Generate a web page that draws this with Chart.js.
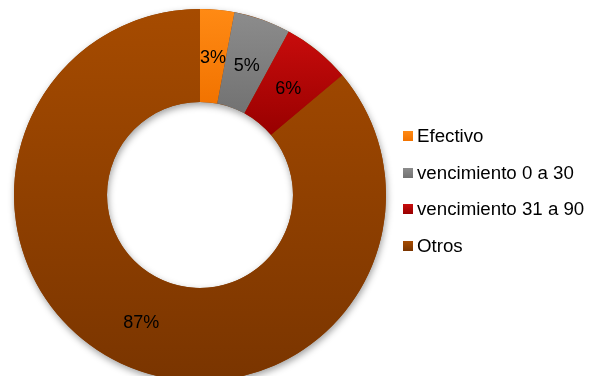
<!DOCTYPE html>
<html lang="es">
<head>
<meta charset="utf-8">
<title>Composición de cartera</title>
<script src="https://cdn.jsdelivr.net/npm/chart.js@4/dist/chart.umd.min.js"></script>
<style>
  html, body { margin: 0; padding: 0; background: #fff; overflow: hidden; }
  .wrap { position: relative; width: 592px; height: 376px; }
  .wrap canvas { position: absolute; left: 0; top: 0; }
  .legend { position: absolute; left: 403px; top: 117.7px; margin: 0; padding: 0; list-style: none;
    font: 18.7px "Liberation Sans", Arial, sans-serif; color: #000; }
  .legend li { height: 36.67px; display: flex; align-items: center; white-space: nowrap; }
  .legend i { display: inline-block; width: 10px; height: 10px; margin-right: 4px; }
</style>
</head>
<body>
<div class="wrap">
  <canvas id="donut" width="592" height="376"></canvas>
  <ul class="legend" id="legend"></ul>
</div>
<script>
(function () {
  'use strict';

  const labels = ['Efectivo', 'vencimiento 0 a 30', 'vencimiento 31 a 90', 'Otros'];
  const values = [3, 5, 6, 87];
  const topColors = ['#ff8a14', '#8c8c8c', '#c80c0c', '#a64b00'];
  const bottomColors = ['#f27300', '#727272', '#980000', '#7a3500'];

  const OUTER = 186;
  const CUTOUT = 0.5;

  // vertical extent of a slice, so each one gets its own top-to-bottom gradient
  function sliceBounds(area, index) {
    const cy = (area.top + area.bottom) / 2;
    const total = values.reduce((a, b) => a + b, 0);
    const before = values.slice(0, index).reduce((a, b) => a + b, 0);
    const a0 = -Math.PI / 2 + (before / total) * Math.PI * 2;
    const a1 = a0 + (values[index] / total) * Math.PI * 2;
    let minY = Infinity, maxY = -Infinity;
    for (let s = 0; s <= 48; s++) {
      const a = a0 + (a1 - a0) * s / 48;
      [OUTER, OUTER * CUTOUT].forEach((r) => {
        const y = cy + r * Math.sin(a);
        minY = Math.min(minY, y);
        maxY = Math.max(maxY, y);
      });
    }
    return { minY, maxY };
  }

  function sliceFill(ctx) {
    const i = ctx.dataIndex;
    const area = ctx.chart.chartArea;
    if (!area) return topColors[i];
    const { minY, maxY } = sliceBounds(area, i);
    const g = ctx.chart.ctx.createLinearGradient(0, minY, 0, maxY);
    g.addColorStop(0, topColors[i]);
    g.addColorStop(1, bottomColors[i]);
    return g;
  }

  // soft drop shadow under the whole ring
  const ringShadow = {
    id: 'ringShadow',
    beforeDatasetsDraw(chart) {
      const arc = chart.getDatasetMeta(0).data[0];
      if (!arc) return;
      const { x, y, outerRadius, innerRadius } = arc.getProps(['x', 'y', 'outerRadius', 'innerRadius'], true);
      const c = chart.ctx;
      c.save();
      c.shadowColor = 'rgba(0,0,0,0.38)';
      c.shadowBlur = 7;
      c.shadowOffsetX = 1;
      c.shadowOffsetY = 3;
      c.fillStyle = '#8c3f00';
      c.beginPath();
      c.arc(x, y, outerRadius, 0, Math.PI * 2);
      c.arc(x, y, innerRadius, Math.PI * 2, 0, true);
      c.closePath();
      c.fill('evenodd');
      c.restore();
    },
  };

  // percentage text in the middle of each slice
  const sliceLabels = {
    id: 'sliceLabels',
    afterDatasetsDraw(chart) {
      const c = chart.ctx;
      c.save();
      c.font = '18px "Liberation Sans", Arial, sans-serif';
      c.fillStyle = '#000';
      c.textAlign = 'center';
      c.textBaseline = 'middle';
      chart.getDatasetMeta(0).data.forEach((arc, i) => {
        const p = arc.tooltipPosition();
        c.fillText(values[i] + '%', p.x, p.y + 2);
      });
      c.restore();
    },
  };

  new Chart(document.getElementById('donut').getContext('2d'), {
    type: 'doughnut',
    data: { labels, datasets: [{ data: values, backgroundColor: sliceFill, borderWidth: 0 }] },
    options: {
      responsive: false,
      animation: false,
      radius: OUTER,
      cutout: (CUTOUT * 100) + '%',
      layout: { padding: { left: 0, right: 192, top: 14, bottom: 0 } },
      plugins: { legend: { display: false }, tooltip: { enabled: false } },
    },
    plugins: [ringShadow, sliceLabels],
  });

  document.getElementById('legend').innerHTML = labels.map((l, i) =>
    `<li><i style="background:linear-gradient(${topColors[i]},${bottomColors[i]})"></i>${l}</li>`).join('');
})();
</script>
</body>
</html>
